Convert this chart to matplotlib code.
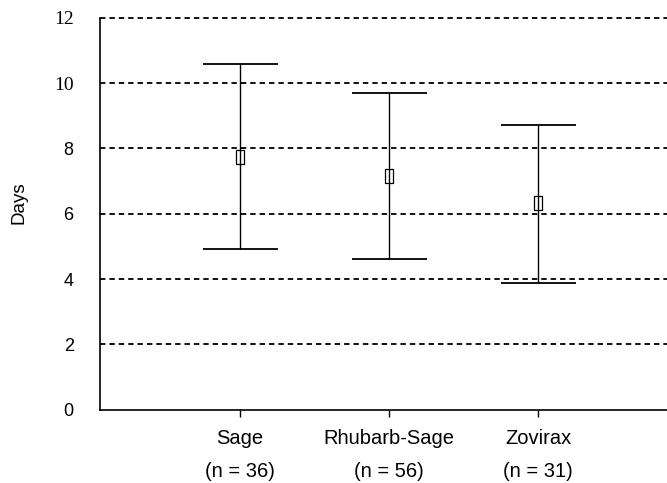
import matplotlib
matplotlib.use("Agg")
import matplotlib.pyplot as plt
import numpy as np

# values
groups = ["Sage", "Rhubarb-Sage", "Zovirax"]
n_sizes = [36, 56, 31]
means = [7.75, 7.16, 6.32]
lows = [4.93, 4.62, 3.89]
highs = [10.59, 9.71, 8.73]
yticks = [0, 2, 4, 6, 8, 10, 12]

fig = plt.figure(figsize=(6.67, 4.83), dpi=100)
ax = fig.add_axes([0.150, 0.152, 0.850, 0.811])

x = np.arange(1, len(groups) + 1)
m = np.array(means)
yerr = [m - np.array(lows), np.array(highs) - m]

# tall hollow rectangle marker
rect_marker = [(-1, -1.8), (1, -1.8), (1, 1.8), (-1, 1.8), (-1, -1.8)]
ax.errorbar(x, m, yerr=yerr, fmt="none", ecolor="black", elinewidth=1.0,
            capsize=27, capthick=1.3, zorder=3)
ax.plot(x, m, linestyle="none", marker=rect_marker, markersize=10.5,
        markerfacecolor="none", markeredgecolor="black", markeredgewidth=0.9,
        zorder=4)

# dashed horizontal grid
for yv in yticks[1:]:
    ax.axhline(yv, color="black", lw=1.3, ls=(0, (3, 2.2)), zorder=1,
               clip_on=False)

ax.set_xlim(0.06, 3.865)
ax.set_ylim(0, 12)
ax.set_yticks(yticks)
ax.set_yticklabels([str(v) for v in yticks])
for lab, v in zip(ax.get_yticklabels(), yticks):
    if v >= 10:
        lab.set_fontfamily("Liberation Serif")
        lab.set_fontsize(14)
    else:
        lab.set_fontfamily("Liberation Sans")
        lab.set_fontsize(13)
ax.tick_params(axis="y", length=0, pad=19)

ax.set_xticks(x)
ax.set_xticklabels([f"{g}\n(n = {n})" for g, n in zip(groups, n_sizes)],
                   fontsize=14.5, fontfamily="Liberation Sans", linespacing=1.9)
ax.tick_params(axis="x", length=5, width=1, direction="out", pad=9)

ax.set_ylabel("Days", fontsize=13.5, fontfamily="Liberation Sans", va="center")
ax.yaxis.set_label_coords(-0.143, 0.527)

for side in ("top", "right"):
    ax.spines[side].set_visible(False)
for side in ("left", "bottom"):
    ax.spines[side].set_linewidth(1.2)

fig.savefig("out.png", dpi=100)
